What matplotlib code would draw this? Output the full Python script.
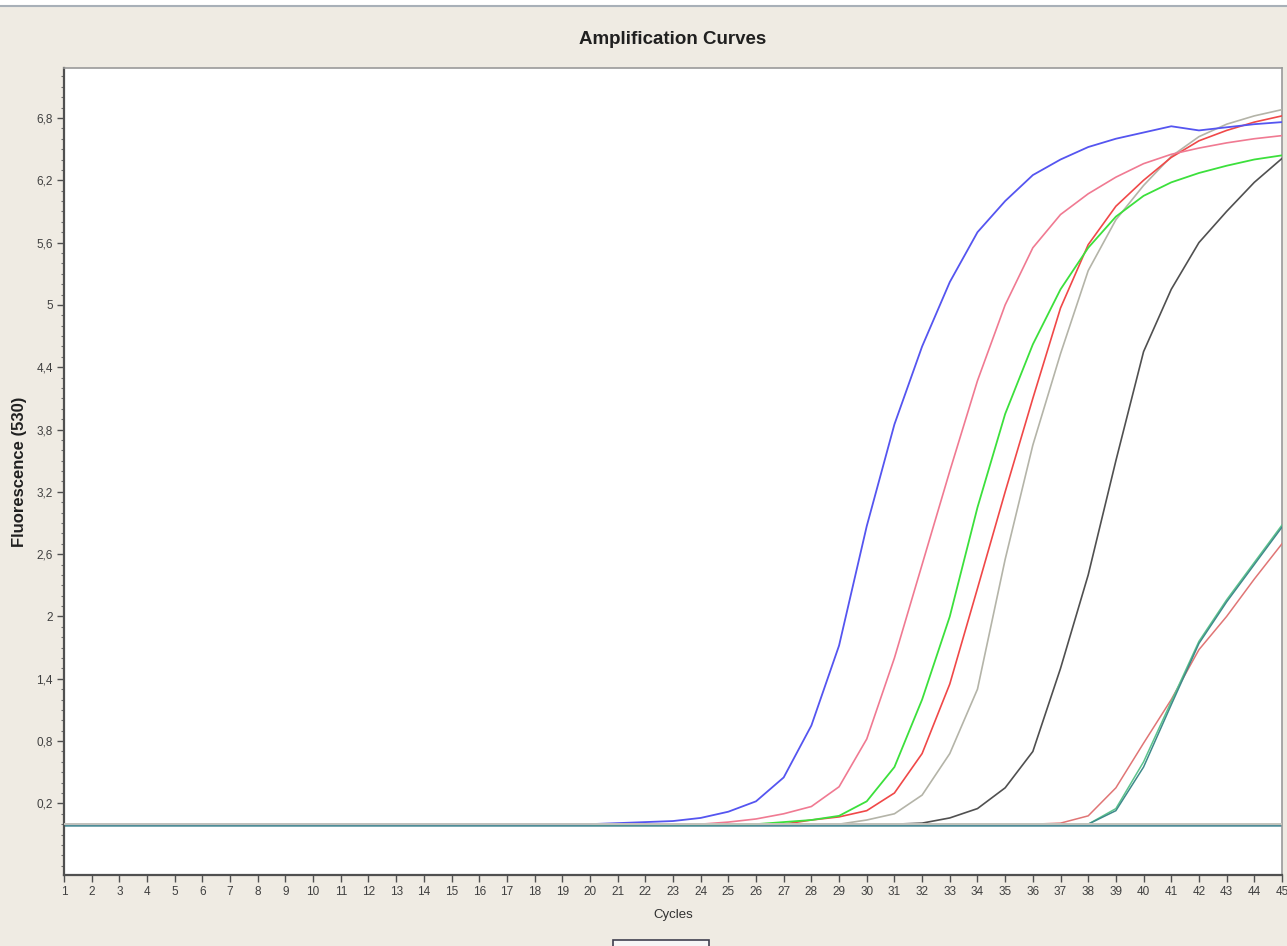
import matplotlib.pyplot as plt
from matplotlib.patches import Rectangle
from matplotlib.lines import Line2D
from matplotlib.ticker import MultipleLocator

plt.rcParams['font.family'] = ['Liberation Sans', 'DejaVu Sans']

# cycles 1..45
cycles = list(range(1, 46))

# fluorescence (530) per sample
blue = [0.0, 0.0, 0.0, 0.0, 0.0, 0.0, 0.0, 0.0, 0.0, 0.0,
        0.0, 0.0, 0.0, 0.0, 0.0, 0.0, 0.0, 0.0, 0.0, 0.0,
        0.01, 0.02, 0.03, 0.06, 0.12, 0.22, 0.45, 0.95, 1.72, 2.87,
        3.85, 4.6, 5.22, 5.7, 6.0, 6.25, 6.4, 6.52, 6.6, 6.66,
        6.72, 6.68, 6.71, 6.74, 6.76]
pink = [0.0, 0.0, 0.0, 0.0, 0.0, 0.0, 0.0, 0.0, 0.0, 0.0,
        0.0, 0.0, 0.0, 0.0, 0.0, 0.0, 0.0, 0.0, 0.0, 0.0,
        0.0, 0.0, 0.0, 0.0, 0.02, 0.05, 0.1, 0.17, 0.36, 0.82,
        1.6, 2.5, 3.4, 4.27, 5.0, 5.55, 5.87, 6.07, 6.23, 6.36,
        6.45, 6.51, 6.56, 6.6, 6.63]
green = [0.0, 0.0, 0.0, 0.0, 0.0, 0.0, 0.0, 0.0, 0.0, 0.0,
         0.0, 0.0, 0.0, 0.0, 0.0, 0.0, 0.0, 0.0, 0.0, 0.0,
         0.0, 0.0, 0.0, 0.0, 0.0, 0.0, 0.02, 0.04, 0.08, 0.22,
         0.55, 1.2, 2.0, 3.05, 3.95, 4.62, 5.15, 5.55, 5.85, 6.05,
         6.18, 6.27, 6.34, 6.4, 6.44]
red = [0.0, 0.0, 0.0, 0.0, 0.0, 0.0, 0.0, 0.0, 0.0, 0.0,
       0.0, 0.0, 0.0, 0.0, 0.0, 0.0, 0.0, 0.0, 0.0, 0.0,
       0.0, 0.0, 0.0, 0.0, 0.0, 0.0, 0.0, 0.04, 0.07, 0.13,
       0.3, 0.68, 1.35, 2.27, 3.2, 4.1, 4.97, 5.58, 5.95, 6.2,
       6.42, 6.58, 6.68, 6.76, 6.82]
grey = [0.0, 0.0, 0.0, 0.0, 0.0, 0.0, 0.0, 0.0, 0.0, 0.0,
        0.0, 0.0, 0.0, 0.0, 0.0, 0.0, 0.0, 0.0, 0.0, 0.0,
        0.0, 0.0, 0.0, 0.0, 0.0, 0.0, 0.0, 0.0, 0.0, 0.04,
        0.1, 0.28, 0.68, 1.3, 2.55, 3.65, 4.53, 5.33, 5.82, 6.15,
        6.43, 6.62, 6.74, 6.82, 6.88]
black = [0.0, 0.0, 0.0, 0.0, 0.0, 0.0, 0.0, 0.0, 0.0, 0.0,
         0.0, 0.0, 0.0, 0.0, 0.0, 0.0, 0.0, 0.0, 0.0, 0.0,
         0.0, 0.0, 0.0, 0.0, 0.0, 0.0, 0.0, 0.0, 0.0, 0.0,
         0.0, 0.01, 0.06, 0.15, 0.35, 0.7, 1.5, 2.4, 3.5, 4.55,
         5.15, 5.6, 5.9, 6.18, 6.41]
salmon = [0.0, 0.0, 0.0, 0.0, 0.0, 0.0, 0.0, 0.0, 0.0, 0.0,
          0.0, 0.0, 0.0, 0.0, 0.0, 0.0, 0.0, 0.0, 0.0, 0.0,
          0.0, 0.0, 0.0, 0.0, 0.0, 0.0, 0.0, 0.0, 0.0, 0.0,
          0.0, 0.0, 0.0, 0.0, 0.0, 0.0, 0.01, 0.08, 0.35, 0.78,
          1.2, 1.68, 2.0, 2.36, 2.7]
teal = [0.0, 0.0, 0.0, 0.0, 0.0, 0.0, 0.0, 0.0, 0.0, 0.0,
        0.0, 0.0, 0.0, 0.0, 0.0, 0.0, 0.0, 0.0, 0.0, 0.0,
        0.0, 0.0, 0.0, 0.0, 0.0, 0.0, 0.0, 0.0, 0.0, 0.0,
        0.0, 0.0, 0.0, 0.0, 0.0, 0.0, 0.0, 0.0, 0.13, 0.55,
        1.15, 1.74, 2.14, 2.5, 2.86]
seagreen = [0.0, 0.0, 0.0, 0.0, 0.0, 0.0, 0.0, 0.0, 0.0, 0.0,
            0.0, 0.0, 0.0, 0.0, 0.0, 0.0, 0.0, 0.0, 0.0, 0.0,
            0.0, 0.0, 0.0, 0.0, 0.0, 0.0, 0.0, 0.0, 0.0, 0.0,
            0.0, 0.0, 0.0, 0.0, 0.0, 0.0, 0.0, 0.0, 0.15, 0.6,
            1.18, 1.76, 2.16, 2.52, 2.88]
# flat controls
control = [0.0, 0.0, 0.0, 0.0, 0.0, 0.0, 0.0, 0.0, 0.0, 0.0,
           0.0, 0.0, 0.0, 0.0, 0.0, 0.0, 0.0, 0.0, 0.0, 0.0,
           0.0, 0.0, 0.0, 0.0, 0.0, 0.0, 0.0, 0.0, 0.0, 0.0,
           0.0, 0.0, 0.0, 0.0, 0.0, 0.0, 0.0, 0.0, 0.0, 0.0,
           0.0, 0.0, 0.0, 0.0, 0.0]
negative = [-0.01, -0.01, -0.01, -0.01, -0.01, -0.01, -0.01, -0.01, -0.01, -0.01,
            -0.01, -0.01, -0.01, -0.01, -0.01, -0.01, -0.01, -0.01, -0.01, -0.01,
            -0.01, -0.01, -0.01, -0.01, -0.01, -0.01, -0.01, -0.01, -0.01, -0.01,
            -0.01, -0.01, -0.01, -0.01, -0.01, -0.01, -0.01, -0.01, -0.01, -0.01,
            -0.01, -0.01, -0.01, -0.01, -0.01]

yticks = [0.2, 0.8, 1.4, 2.0, 2.6, 3.2, 3.8, 4.4, 5.0, 5.6, 6.2, 6.8]
ytick_labels = ['0,2', '0,8', '1,4', '2', '2,6', '3,2', '3,8', '4,4', '5', '5,6', '6,2', '6,8']

bg = '#EFEBE3'
fig = plt.figure(figsize=(12.87, 9.46), dpi=100, facecolor=bg)
ax = fig.add_axes([0.0497, 0.075, 0.9464, 0.853])
ax.set_facecolor('white')

# top window strip
fig.patches.append(Rectangle((0, 0.994), 1, 0.006, transform=fig.transFigure,
                             facecolor='white', edgecolor='none'))
fig.add_artist(Line2D([0, 1], [0.994, 0.994], transform=fig.transFigure,
                      color='#A8B0B8', lw=1.5))
# little dropdown box at the bottom
fig.patches.append(Rectangle((0.476, -0.01), 0.075, 0.016, transform=fig.transFigure,
                             facecolor='#F6F6F6', edgecolor='#404050', lw=1.2))

ax.plot(cycles, negative, color='#4F8C98', lw=1.8, zorder=2)
ax.plot(cycles, salmon, color='#E07575', lw=1.1, zorder=3)
ax.plot(cycles, seagreen, color='#5CC48C', lw=1.1, zorder=3)
ax.plot(cycles, teal, color='#3E8A8A', lw=1.1, zorder=3)
ax.plot(cycles, black, color='#505050', lw=1.2, zorder=3)
ax.plot(cycles, grey, color='#B4B4A8', lw=1.2, zorder=3)
ax.plot(cycles, red, color='#F04848', lw=1.2, zorder=3)
ax.plot(cycles, green, color='#3CE03C', lw=1.3, zorder=3)
ax.plot(cycles, pink, color='#F07A92', lw=1.2, zorder=3)
ax.plot(cycles, blue, color='#5555F0', lw=1.3, zorder=3)
ax.plot(cycles, control, color='#C4C4BC', lw=1.4, zorder=4)

ax.set_xlim(1, 45)
ax.set_ylim(-0.49, 7.28)
ax.set_xticks(cycles)
ax.set_xticklabels([str(c) for c in cycles])
ax.set_yticks(yticks)
ax.set_yticklabels(ytick_labels)
ax.yaxis.set_minor_locator(MultipleLocator(0.1))

ax.tick_params(axis='both', which='major', length=5, width=1, color='#505050',
               labelsize=8.5, labelcolor='#404040', pad=3)
ax.tick_params(axis='y', which='minor', length=2.5, width=0.8, color='#707070')

for side in ['left', 'bottom']:
    ax.spines[side].set_color('#505050')
    ax.spines[side].set_linewidth(1.6)
for side in ['top', 'right']:
    ax.spines[side].set_color('#9A9A9A')
    ax.spines[side].set_linewidth(1.2)

ax.set_xlabel('Cycles', fontsize=9.5, color='#303030')
ax.xaxis.set_label_coords(0.5, -0.042)
ax.set_ylabel('Fluorescence (530)', fontsize=12, fontweight='bold', color='#202020')
ax.yaxis.set_label_coords(-0.03, 0.5)

fig.text(0.523, 0.958, 'Amplification Curves', ha='center', va='center',
         fontsize=13.5, fontweight='bold', color='#202020')

plt.savefig('out.png', dpi=100, facecolor=bg)
